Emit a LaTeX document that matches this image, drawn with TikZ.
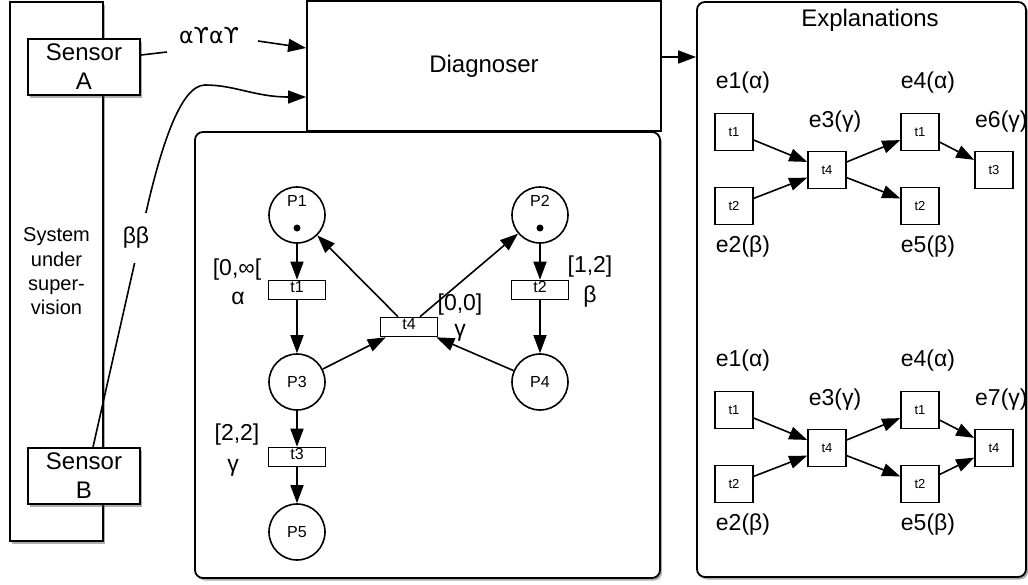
\documentclass[tikz,border=0pt]{standalone}
\usepackage{fontspec}
\setmainfont{Liberation Sans}
\newfontfamily\dejavu{DejaVu Sans}
\usetikzlibrary{arrows.meta,shadows}
\begin{document}
\begin{tikzpicture}[x=1pt,y=-1pt,
  box/.style={draw,line width=1.8pt,fill=white,inner sep=0pt,align=center},
  shad/.style={drop shadow={shadow xshift=2pt,shadow yshift=-2.5pt,opacity=0.45,fill=black!70}},
  place/.style={circle,draw,line width=1.6pt,minimum size=56pt,inner sep=0pt},
  plab/.style={inner sep=0pt,font=\fontsize{16}{19}\selectfont},
  trans/.style={draw,line width=1.6pt,minimum width=57pt,minimum height=19pt,inner sep=0pt},
  tlab/.style={inner sep=0pt,font=\fontsize{16}{18}\selectfont},
  ebox/.style={draw,line width=1.6pt,minimum width=38pt,minimum height=37pt,inner sep=0pt,font=\fontsize{13}{15}\selectfont},
  arr/.style={line width=1.6pt,-{Triangle[length=18pt,width=13pt]}},
  big/.style={font=\fontsize{24}{29}\selectfont},
  lab/.style={font=\fontsize{23}{27}\selectfont,inner sep=0pt},
]
\useasboundingbox (0,0) rectangle (1028,584);
\fill[white] (0,0) rectangle (1028,584);

% system under supervision
\node[box,shad,minimum width=93pt,minimum height=539pt,font=\fontsize{20}{24.3}\selectfont] (sys) at (56.5,271.5) {System\\under\\super-\\vision};
\node[box,shad,minimum width=112pt,minimum height=56pt,big] (sA) at (84,67) {Sensor\\A};
\node[box,shad,minimum width=112pt,minimum height=56pt,big] (sB) at (84,476) {Sensor\\B};

% Petri net box and diagnoser
\node[box,shad,rounded corners=8pt,minimum width=465pt,minimum height=446pt] (net) at (427.5,355) {};
\node[box,minimum width=354pt,minimum height=130pt,big] (diag) at (484,66) {Diagnoser};

% explanations box
\node[box,shad,rounded corners=8pt,minimum width=329pt,minimum height=575pt] (expl) at (861.5,289.5) {};
\node[big,inner sep=0pt] (title) at (870,20) {Explanations};

\draw[arr] ([yshift=9pt]diag.east) -- ([yshift=9pt]diag.east -| expl.west);

% sensor A observations
\coordinate (a1) at (167,52);
\coordinate (a2) at (258,41);
\draw[line width=1.6pt] ([yshift=12pt]sA.east) -- (a1);
\node[inner sep=0pt,font=\dejavu\fontsize{22}{26}\selectfont] (sig) at (209,36) {αϒαϒ};
\draw[arr] (a2) -- ([yshift=18pt]diag.west);

% sensor B observations
\draw[arr] ([xshift=9pt]sB.north) -- (145,217) .. controls (160,150) and (180,85) .. (205,85) .. controls (235,85) and (255,97) .. ([yshift=-31pt]diag.west);
\node[lab,fill=white,inner ysep=14pt,inner xsep=1pt] (bb) at (136,238) {ββ};

% Petri net
\node[place] (P1) at (297,215) {};
\node[plab] (P1l) at (297,201) {P1};
\fill (297,228) circle (3.5pt);
\node[place] (P2) at (540,215) {};
\node[plab] (P2l) at (540,201) {P2};
\fill (540,228) circle (3.5pt);
\node[place,plab] (P3) at (297,382) {P3};
\node[place,plab] (P4) at (540,382) {P4};
\node[place,plab] (P5) at (297,532) {P5};

\node[trans] (t1) at (297,290) {};
\node[trans] (t2) at (540,290) {};
\node[trans] (t4) at (409,327) {};
\node[trans] (t3) at (297,457) {};
\node[tlab] (t1l) at (297,287) {t1};
\node[tlab] (t2l) at (540,287) {t2};
\node[tlab] (t4l) at (409,324) {t4};
\node[tlab] (t3l) at (297,454) {t3};

\draw[arr] (P1) -- (t1);
\draw[arr] (t1) -- (P3);
\draw[arr] (P3) -- (t3);
\draw[arr] (t3) -- (P5);
\draw[arr] (P2) -- (t2);
\draw[arr] (t2) -- (P4);
\draw[arr] (P3) -- ([xshift=6pt]t4.south west);
\draw[arr] (P4) -- ([xshift=-2pt]t4.south east);
\draw[arr] ([xshift=-11pt]t4.north) -- (P1);
\draw[arr] ([xshift=11pt]t4.north) -- (P2);

\node[lab] (i1) at (237,270) {[0,∞[};
\node[lab] (l1) at (238,298) {α};
\node[lab] (i2) at (590,267) {[1,2]};
\node[lab] (l2) at (590,297) {β};
\node[lab] (i4) at (460,305) {[0,0]};
\node[lab] (l4) at (460,333) {γ};
\node[lab] (i3) at (237,435) {[2,2]};
\node[lab] (l3) at (233,468) {γ};

% explanation 1
\node[ebox] (a1t1) at (734,132) {t1};
\node[ebox] (a1t2) at (734,206) {t2};
\node[ebox] (a1t4) at (827,170) {t4};
\node[ebox] (a1u1) at (920,132) {t1};
\node[ebox] (a1u2) at (920,206) {t2};
\node[ebox] (a1t3) at (994,170) {t3};
\draw[arr] (a1t1) -- (a1t4);
\draw[arr] (a1t2) -- (a1t4);
\draw[arr] (a1t4) -- (a1u1);
\draw[arr] (a1t4) -- (a1u2);
\draw[arr] (a1u1) -- (a1t3);
\node[lab] (a1e1) at (743,83) {e1(α)};
\node[lab] (a1e2) at (743,247) {e2(β)};
\node[lab] (a1e3) at (835,122) {e3(γ)};
\node[lab] (a1e4) at (928,83) {e4(α)};
\node[lab] (a1e5) at (928,247) {e5(β)};
\node[lab,anchor=west] (a1e6) at (975,122) {e6(γ)};

% explanation 2
\node[ebox] (a2t1) at (734,410) {t1};
\node[ebox] (a2t2) at (734,484) {t2};
\node[ebox] (a2t4) at (827,448) {t4};
\node[ebox] (a2u1) at (920,410) {t1};
\node[ebox] (a2u2) at (920,484) {t2};
\node[ebox] (a2t5) at (994,448) {t4};
\draw[arr] (a2t1) -- (a2t4);
\draw[arr] (a2t2) -- (a2t4);
\draw[arr] (a2t4) -- (a2u1);
\draw[arr] (a2t4) -- (a2u2);
\draw[arr] (a2u1) -- (a2t5);
\draw[arr] (a2u2) -- (a2t5);
\node[lab] (a2e1) at (743,361) {e1(α)};
\node[lab] (a2e2) at (743,525) {e2(β)};
\node[lab] (a2e3) at (835,400) {e3(γ)};
\node[lab] (a2e4) at (928,361) {e4(α)};
\node[lab] (a2e5) at (928,525) {e5(β)};
\node[lab,anchor=west] (a2e7) at (975,400) {e7(γ)};
\end{tikzpicture}
\end{document}
